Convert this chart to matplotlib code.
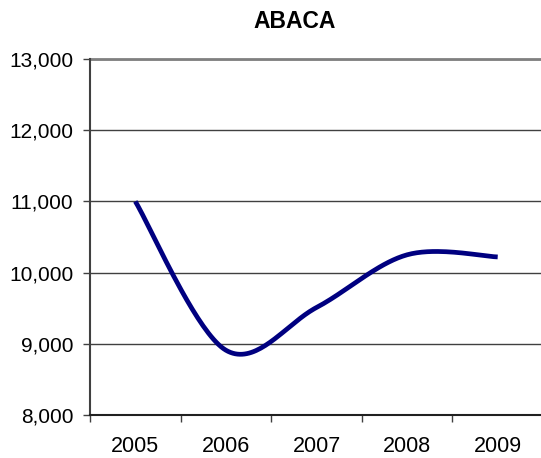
import numpy as np
import matplotlib.pyplot as plt
from matplotlib.ticker import FuncFormatter

# Dados do grafico
years = ['2005', '2006', '2007', '2008', '2009']
values = [11000, 8910, 9510, 10250, 10220]
title = 'ABACA'

plt.rcParams['font.family'] = ['Liberation Sans', 'DejaVu Sans']


def smooth(ys, n=40):
    # curva suavizada tipo Excel (Catmull-Rom em Bezier)
    xs = np.arange(len(ys), dtype=float)
    p = np.column_stack([xs, np.asarray(ys, dtype=float)])
    ext = np.vstack([p[0], p, p[-1]])
    out = []
    t = np.linspace(0, 1, n)[:, None]
    for i in range(len(p) - 1):
        p0, p1, p2, p3 = ext[i], ext[i + 1], ext[i + 2], ext[i + 3]
        c1 = p1 + (p2 - p0) / 6
        c2 = p2 - (p3 - p1) / 6
        seg = ((1 - t) ** 3) * p1 + 3 * ((1 - t) ** 2) * t * c1 + 3 * (1 - t) * t ** 2 * c2 + t ** 3 * p2
        out.append(seg if i == 0 else seg[1:])
    out = np.vstack(out)
    return out[:, 0], out[:, 1]


W, H = 541, 458
fig = plt.figure(figsize=(W / 100, H / 100), dpi=100)
ax = fig.add_axes([90 / W, 1 - 415 / H, 453 / W, 356 / H])

sx, sy = smooth(values)
ax.plot(sx, sy, color='#000080', lw=3.4, solid_capstyle='butt', zorder=3)

ax.set_xlim(-0.5, len(years) - 0.5)
ax.set_ylim(8000, 13000)
ax.set_yticks(np.arange(8000, 13001, 1000))
ax.yaxis.set_major_formatter(FuncFormatter(lambda v, _: f'{int(v):,}'))
ax.grid(axis='y', color='#404040', lw=1.0)
ax.set_axisbelow(True)

ax.set_xticks(np.arange(len(years)))
ax.set_xticklabels(years)
ax.set_xticks(np.arange(len(years) + 1) - 0.5, minor=True)
ax.tick_params(axis='x', which='major', length=0, pad=15, labelsize=15.5)
ax.tick_params(axis='x', which='minor', length=5, width=1, color='#404040', direction='out')
ax.tick_params(axis='y', length=5, width=1, color='#404040', pad=7, labelsize=15)

for s in ['top', 'right']:
    ax.spines[s].set_visible(False)
ax.spines['left'].set_color('#404040')
ax.spines['bottom'].set_color('#202020')
ax.spines['left'].set_linewidth(1.5)
ax.spines['bottom'].set_linewidth(1.5)
# linha superior (13,000) mais clara
ax.axhline(13000, color='#808080', lw=2.0, zorder=2, clip_on=False)

fig.text(295 / W, 1 - 22 / H, title, ha='center', va='center', fontsize=16.5, fontweight='bold')

fig.savefig('out.png', dpi=100)
